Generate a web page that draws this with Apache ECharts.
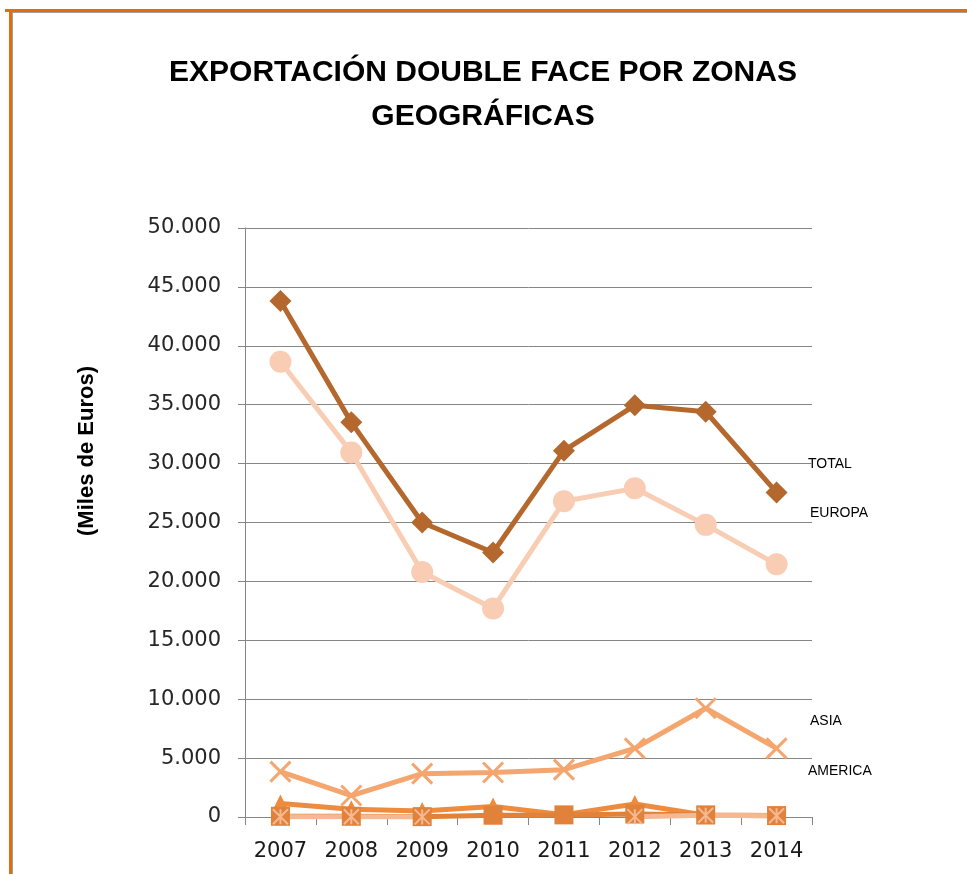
<!DOCTYPE html>
<html>
<head>
<meta charset="utf-8">
<script src="https://cdn.jsdelivr.net/npm/echarts@6/dist/echarts.min.js"></script>
<style>
html,body{margin:0;padding:0;background:#fff;}
#chart{width:967px;height:874px;}
</style>
</head>
<body>
<div id="chart"></div>
<script>
const years = ['2007','2008','2009','2010','2011','2012','2013','2014'];
const total   = [43800, 33500, 25000, 22450, 31100, 34950, 34400, 27550];
const europa  = [38650, 30950, 20800, 17700, 26800, 27900, 24800, 21450];
const asia    = [3850, 1820, 3680, 3780, 4020, 5830, 9230, 5830];
const america = [1150, 650, 500, 900, 200, 1100, 150, 100];
const africa  = [60, 60, 30, 150, 180, 250, 180, 120];
const oceania = [20, 20, 10, null, null, 30, 150, 100];
const yTicks = [0, 5000, 10000, 15000, 20000, 25000, 30000, 35000, 40000, 45000, 50000];
const sideLabels = [
  {text: 'TOTAL', x: 808, y: 465},
  {text: 'EUROPA', x: 810, y: 514},
  {text: 'ASIA', x: 810, y: 722},
  {text: 'AMERICA', x: 808, y: 772}
];
const yAxisTitle = '(Miles de Euros)';

function fmt(v){ return v.toString().replace(/\B(?=(\d{3})+(?!\d))/g, '.'); }

const chart = echarts.init(document.getElementById('chart'), null, {renderer:'canvas'});
const xPath = 'path://M0,0L10,10M10,0L0,10';
const starPath = 'path://M5,0L5,10M0,0L10,10M10,0L0,10';

function line(name, data, color, symbol, size, extra){
  return Object.assign({
    name: name, type: 'line', data: data, symbol: symbol, symbolSize: size,
    showSymbol: true, animation: false, connectNulls: false,
    lineStyle: {color: color, width: 5},
    itemStyle: {color: color}
  }, extra || {});
}

chart.setOption({
  animation: false,
  title: {
    text: 'EXPORTACIÓN DOUBLE FACE POR ZONAS\nGEOGRÁFICAS',
    left: 478, top: 46, textAlign: 'center',
    textStyle: {fontFamily: 'Liberation Sans', fontWeight: 'bold', fontSize: 30, lineHeight: 44, color: '#000'}
  },
  grid: {left: 245, right: 155, top: 228, bottom: 57},
  xAxis: {
    type: 'category', data: years, boundaryGap: true,
    axisLine: {lineStyle: {color: '#868686', width: 1}},
    axisTick: {show: true, length: 8, lineStyle: {color: '#868686'}},
    axisLabel: {interval: 0, fontFamily: 'DejaVu Sans', fontSize: 21, color: '#1a1a1a', margin: 24}
  },
  yAxis: {
    type: 'value', min: 0, max: 50000, interval: 5000,
    axisLine: {show: true, lineStyle: {color: '#868686', width: 1}},
    axisTick: {show: true, length: 7, lineStyle: {color: '#868686'}},
    splitLine: {show: true, lineStyle: {color: '#868686', width: 1}},
    axisLabel: {fontFamily: 'DejaVu Sans', fontSize: 21, color: '#262626', margin: 24,
      formatter: function(v){ return fmt(v); }}
  },
  series: [
    line('AMERICA', america, '#EE8B3C', 'triangle', 18),
    line('AFRICA', africa, '#E0823A', 'rect', 19),
    line('ASIA', asia, '#F5A56E', xPath, 20, {itemStyle: {color: '#F5A56E', borderColor: '#F5A56E', borderWidth: 3}}),
    line('OCEANIA', oceania, '#F6B893', starPath, 15, {itemStyle: {color: '#F6B893', borderColor: '#F6B893', borderWidth: 2}}),
    line('EUROPA', europa, '#F8CDB3', 'circle', 22),
    line('TOTAL', total, '#B4682E', 'diamond', 22)
  ],
  graphic: [
    {type: 'rect', shape: {x: 5, y: 9, width: 967, height: 3}, style: {fill: '#E46C0A'}, silent: true},
    {type: 'rect', shape: {x: 12, y: 12, width: 960, height: 1}, style: {fill: '#A0A0A0'}, silent: true},
    {type: 'rect', shape: {x: 9, y: 9, width: 3, height: 870}, style: {fill: '#E46C0A'}, silent: true},
    {type: 'rect', shape: {x: 12, y: 12, width: 1, height: 870}, style: {fill: '#A0A0A0'}, silent: true},
    {type: 'text', x: 87, y: 451, rotation: Math.PI / 2, silent: true,
      style: {text: yAxisTitle, font: 'bold 22px "Liberation Sans"', fill: '#000', align: 'center', verticalAlign: 'middle'}}
  ].concat(sideLabels.map(function(l){
    return {type: 'text', left: l.x, top: l.y - 8, silent: true,
      style: {text: l.text, font: '14px "Liberation Sans"', fill: '#000'}};
  }))
});
</script>
</body>
</html>
